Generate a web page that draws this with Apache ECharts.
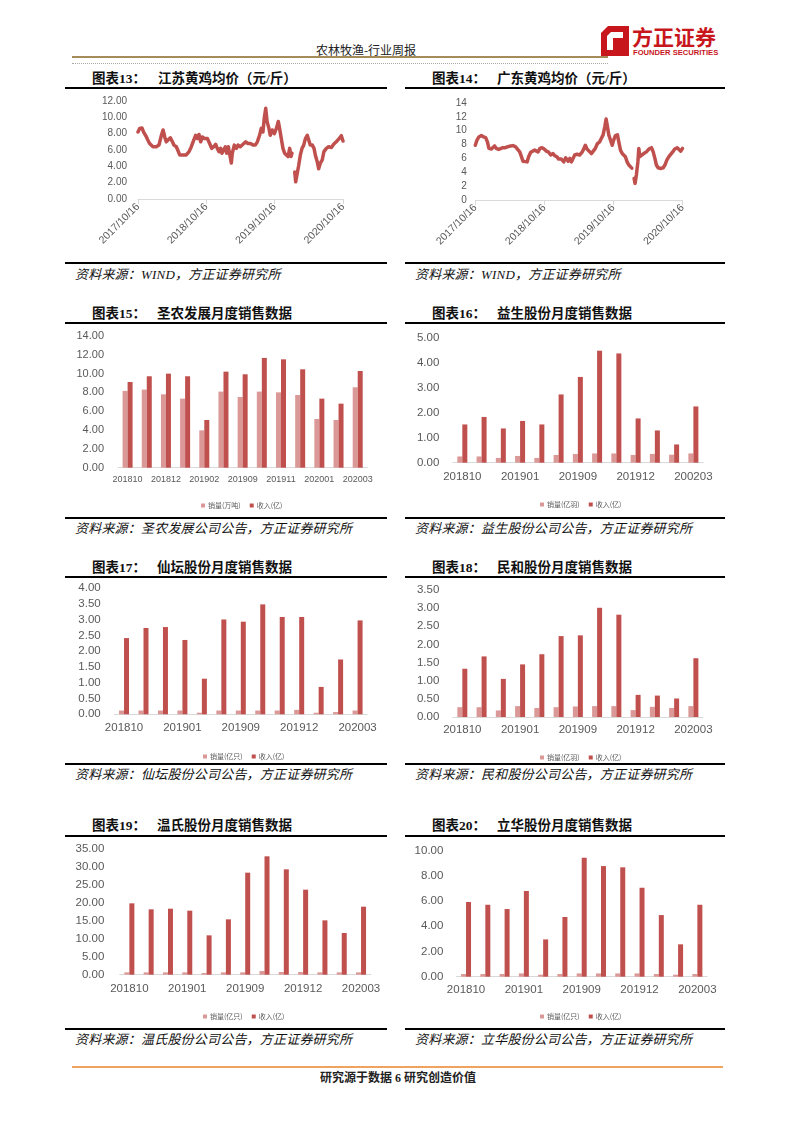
<!DOCTYPE html>
<html><head><meta charset="utf-8">
<script src="https://cdn.jsdelivr.net/npm/echarts/dist/echarts.min.js"></script>
<style>
body{margin:0;background:#fff;}
#page{position:relative;width:793px;height:1122px;overflow:hidden;background:#fff;}
.title{position:absolute;font-family:"Liberation Serif","Noto Sans CJK SC",serif;font-size:13.5px;font-weight:bold;color:#111;line-height:14px;white-space:nowrap;}
.src{position:absolute;font-family:"Liberation Serif","Noto Sans CJK SC",serif;font-style:italic;font-size:13px;color:#111;line-height:14px;white-space:nowrap;letter-spacing:0.2px;}
.hl{position:absolute;height:2px;background:#000;}
.chart{position:absolute;}
</style></head>
<body><div id="page">
<!-- header -->
<div style="position:absolute;left:306px;top:43px;width:120px;text-align:center;font-family:'Noto Sans CJK SC';font-size:12px;line-height:14px;color:#222;">农林牧渔-行业周报</div>
<div style="position:absolute;left:72px;top:56px;width:536px;height:2px;background:#A68B5B;"></div>
<div style="position:absolute;left:72px;top:63px;width:536px;height:0;border-top:1px dotted #aaa;"></div>
<svg style="position:absolute;left:600px;top:25px;" width="30" height="32" viewBox="0 0 30 32">
<polygon points="8,1 29,1 29,31 1,31 1,8" fill="#C8161D"/>
<polygon points="11,7 23,7 23,25 7,25 7,11" fill="#fff"/>
<rect x="13" y="13" width="10" height="12" fill="#C8161D"/>
</svg>
<div style="position:absolute;left:632px;top:24px;font-family:'Noto Sans CJK SC';font-weight:bold;font-size:21px;line-height:24px;color:#C8161D;">方正证券</div>
<div style="position:absolute;left:633px;top:48px;font-family:'Liberation Sans';font-weight:bold;font-size:7.6px;line-height:9px;color:#C8161D;">FOUNDER SECURITIES</div>

<!-- row A -->
<div class="title" style="left:92px;top:72px">图表13：</div>
<div class="title" style="left:158px;top:72px">江苏黄鸡均价（元/斤）</div>
<div class="title" style="left:432px;top:72px">图表14：</div>
<div class="title" style="left:497px;top:72px">广东黄鸡均价（元/斤）</div>
<div class="hl" style="left:65px;top:87px;width:322px"></div>
<div class="hl" style="left:405px;top:87px;width:320px"></div>
<div class="hl" style="left:65px;top:262px;width:322px"></div>
<div class="hl" style="left:405px;top:262px;width:320px"></div>
<div class="src" style="left:75px;top:268px">资料来源：WIND，方正证券研究所</div>
<div class="src" style="left:415px;top:268px">资料来源：WIND，方正证券研究所</div>

<!-- row B -->
<div class="title" style="left:92px;top:307px">图表15：</div>
<div class="title" style="left:157px;top:307px">圣农发展月度销售数据</div>
<div class="title" style="left:432px;top:307px">图表16：</div>
<div class="title" style="left:497px;top:307px">益生股份月度销售数据</div>
<div class="hl" style="left:65px;top:322px;width:322px"></div>
<div class="hl" style="left:405px;top:322px;width:320px"></div>
<div class="hl" style="left:65px;top:517px;width:322px"></div>
<div class="hl" style="left:405px;top:517px;width:320px"></div>
<div class="src" style="left:75px;top:522px">资料来源：圣农发展公司公告，方正证券研究所</div>
<div class="src" style="left:415px;top:522px">资料来源：益生股份公司公告，方正证券研究所</div>

<!-- row C -->
<div class="title" style="left:92px;top:561px">图表17：</div>
<div class="title" style="left:157px;top:561px">仙坛股份月度销售数据</div>
<div class="title" style="left:432px;top:561px">图表18：</div>
<div class="title" style="left:497px;top:561px">民和股份月度销售数据</div>
<div class="hl" style="left:65px;top:576px;width:322px"></div>
<div class="hl" style="left:405px;top:576px;width:320px"></div>
<div class="hl" style="left:65px;top:763px;width:322px"></div>
<div class="hl" style="left:405px;top:763px;width:320px"></div>
<div class="src" style="left:75px;top:768px">资料来源：仙坛股份公司公告，方正证券研究所</div>
<div class="src" style="left:415px;top:768px">资料来源：民和股份公司公告，方正证券研究所</div>

<!-- row D -->
<div class="title" style="left:92px;top:819px">图表19：</div>
<div class="title" style="left:157px;top:819px">温氏股份月度销售数据</div>
<div class="title" style="left:432px;top:819px">图表20：</div>
<div class="title" style="left:497px;top:819px">立华股份月度销售数据</div>
<div class="hl" style="left:65px;top:835px;width:322px"></div>
<div class="hl" style="left:405px;top:835px;width:320px"></div>
<div class="hl" style="left:65px;top:1028px;width:322px"></div>
<div class="hl" style="left:405px;top:1028px;width:320px"></div>
<div class="src" style="left:75px;top:1033px">资料来源：温氏股份公司公告，方正证券研究所</div>
<div class="src" style="left:415px;top:1033px">资料来源：立华股份公司公告，方正证券研究所</div>

<!-- footer -->
<div style="position:absolute;left:72px;top:1066px;width:651px;height:1.5px;background:#F0A35E;"></div>
<div style="position:absolute;left:298px;top:1071px;width:200px;text-align:center;font-family:'Liberation Serif','Noto Sans CJK SC';font-weight:bold;font-size:12px;line-height:14px;color:#222;">研究源于数据 6 研究创造价值</div>

<div id="c13" class="chart" style="left:72px;top:90px;width:318px;height:170px"></div>
<div id="c14" class="chart" style="left:405px;top:90px;width:317px;height:170px"></div>
<div id="c15" class="chart" style="left:72px;top:325px;width:318px;height:190px"></div>
<div id="c16" class="chart" style="left:405px;top:325px;width:317px;height:190px"></div>
<div id="c17" class="chart" style="left:72px;top:578px;width:318px;height:184px"></div>
<div id="c18" class="chart" style="left:405px;top:578px;width:317px;height:184px"></div>
<div id="c19" class="chart" style="left:72px;top:838px;width:318px;height:188px"></div>
<div id="c20" class="chart" style="left:405px;top:838px;width:317px;height:188px"></div>
</div>
<script>
// ---------- data ----------
const dateTicks = ['2017/10/16','2018/10/16','2019/10/16','2020/10/16'];
const totalDays = 1096; // 2017/10/16 -> 2020/10/16

const days13 = [0,9,21,30,45,53,62,71,80,89,98,112,125,134,143,151,160,173,184,192,205,214,223,232,244,258,273,285,298,308,317,326,335,344,356,371,383,394,405,415,424,433,442,449,458,467,474,483,490,499,504,515,526,535,547,561,576,588,601,615,627,638,650,659,668,675,683,690,700,707,718,729,740,750,757,766,775,784,793,802,811,818,823,829,838,843,850,859,868,877,886,895,905,914,921,932,941,950,959,966,975,985,994,1007,1019,1034,1046,1060,1075,1087,1096];
const price13 = [8.2,8.65,8.7,8.2,7.6,7.2,6.8,7.0,6.4,6.6,6.4,6.6,7.8,8.45,7.6,7.0,7.2,7.5,7.0,6.6,6.4,6.2,5.4,5.2,5.4,5.4,5.8,6.4,7.2,7.8,7.4,7.9,7.0,7.6,7.4,7.4,6.8,6.2,6.4,6.7,6.2,5.8,6.2,5.6,6.0,6.4,5.6,6.4,6.6,4.4,5.6,6.6,6.2,6.6,6.4,6.7,7.0,6.8,6.8,6.6,6.6,7.0,7.8,8.65,8.2,9.9,11.1,9.5,8.65,7.8,8.45,8.0,8.65,9.5,8.65,7.4,6.2,5.6,5.8,5.2,6.2,5.2,5.6,null,3.3,2.1,2.3,4.1,5.4,6.2,6.6,7.4,7.8,8.0,6.6,6.6,6.2,5.2,4.5,3.7,4.4,4.8,5.8,6.2,6.4,6.3,6.7,7.0,7.4,7.75,7.1];

const days14 = [0,9,19,32,44,55,64,72,85,94,102,111,124,134,146,159,173,187,199,212,222,235,244,252,261,274,282,293,302,314,323,332,342,353,364,376,388,399,411,420,431,441,455,468,478,491,500,508,517,526,538,552,565,575,582,591,602,614,623,635,646,658,667,676,685,692,699,706,715,724,732,741,752,759,768,777,785,794,803,812,821,828,834,840,845,852,860,865,870,879,891,905,918,932,941,950,958,967,980,994,1003,1013,1024,1034,1043,1055,1068,1078,1087,1096];
const price14 = [7.9,8.65,9.1,9.3,9.1,9.0,8.4,7.45,7.35,7.45,7.8,7.45,7.3,7.05,7.55,7.55,7.7,7.8,7.85,7.7,7.55,6.95,6.25,5.6,5.4,5.5,6.25,6.9,6.7,7.2,7.45,6.95,7.45,7.55,7.35,7.05,6.9,6.5,6.7,6.4,6.25,5.9,5.9,5.5,6.1,5.6,6.0,5.5,6.0,6.5,6.6,6.5,6.9,7.45,7.9,7.35,7.05,6.7,6.5,7.45,8.15,8.4,8.9,9.4,10.6,11.7,10.6,9.4,8.65,7.9,8.65,9.3,9.4,8.4,7.2,6.7,6.5,6.25,5.5,5.05,4.8,4.6,null,3.1,2.4,3.6,5.5,7.45,6.25,6.5,6.7,6.95,7.35,7.55,6.95,6.0,5.05,4.65,4.55,4.65,5.05,5.75,6.25,6.5,6.9,7.35,7.55,7.35,7.05,7.45];

const monthsA = ['201810','201811','201812','201901','201902','201908','201909','201910','201911','201912','202001','202002','202003'];
const monthsB = ['201810','201811','201812','201901','201902','201908','201909','201910','201911','201912','202001','202002','200203'];

const revName = '收入(亿)';
const vol15 = [8.16,8.30,7.80,7.34,3.97,8.09,7.52,8.09,8.01,7.73,5.18,5.07,8.55];
const rev15 = [9.11,9.72,10.00,9.72,5.07,10.21,9.93,11.67,11.52,10.46,7.34,6.81,10.28];
const vol16 = [0.25,0.25,0.19,0.27,0.19,0.31,0.35,0.37,0.37,0.31,0.35,0.32,0.37];
const rev16 = [1.53,1.83,1.37,1.67,1.53,2.73,3.43,4.48,4.37,1.77,1.29,0.73,2.25];
const vol17 = [0.12,0.12,0.12,0.12,0.05,0.12,0.12,0.12,0.12,0.14,0.05,0.07,0.12];
const rev17 = [2.42,2.74,2.77,2.36,1.13,3.01,2.94,3.49,3.09,3.09,0.87,1.74,2.98];
const vol18 = [0.27,0.27,0.18,0.30,0.25,0.27,0.29,0.30,0.30,0.19,0.28,0.25,0.30];
const rev18 = [1.33,1.67,1.05,1.45,1.73,2.23,2.25,3.01,2.82,0.61,0.59,0.51,1.62];
const vol19 = [0.65,0.65,0.65,0.65,0.46,0.65,0.65,1.02,0.74,0.74,0.65,0.65,0.65];
const rev19 = [19.87,18.20,18.38,17.83,10.96,15.41,28.41,32.96,29.34,23.68,15.13,11.61,18.94];
const vol20 = [0.21,0.21,0.21,0.26,0.16,0.21,0.26,0.26,0.26,0.26,0.21,0.16,0.21];
const rev20 = [5.93,5.71,5.37,6.80,2.96,4.74,9.44,8.78,8.68,7.06,4.89,2.57,5.71];

// ---------- styles ----------
const RED = '#C0504D', PINK = '#DA9896', GRAY = '#595959', AXIS = '#D9D9D9';
const NUMFONT = '"Liberation Sans", Arial, sans-serif';

function lineChart(id, days, prices, yMax, yDigits, grid, yMargin) {
  const chart = echarts.init(document.getElementById(id), null, {renderer: 'canvas'});
  const step = totalDays / 3;
  chart.setOption({
    animation: false,
    grid: Object.assign({containLabel: false, outerBoundsMode: 'none'}, grid),
    xAxis: {
      type: 'value', min: 0, max: totalDays, interval: step,
      axisLine: {show: true, lineStyle: {color: AXIS, width: 1}},
      axisTick: {show: true, length: 5, lineStyle: {color: AXIS}},
      splitLine: {show: false},
      axisLabel: {rotate: 45, margin: 6, fontSize: 10.5, color: GRAY, fontFamily: NUMFONT,
        showMinLabel: true, showMaxLabel: true, hideOverlap: false,
        formatter: v => dateTicks[Math.round(v / step)] || ''}
    },
    yAxis: {
      type: 'value', min: 0, max: yMax, interval: 2,
      axisLine: {show: false}, axisTick: {show: false}, splitLine: {show: false},
      axisLabel: {margin: yMargin, fontSize: 10, color: GRAY, fontFamily: NUMFONT,
        formatter: v => v.toFixed(yDigits)}
    },
    series: [{
      type: 'line', showSymbol: false, connectNulls: false,
      data: days.map((d, i) => [d, prices[i] === null ? '-' : prices[i]]),
      lineStyle: {color: RED, width: 3.5, join: 'round', cap: 'round'},
      itemStyle: {color: RED}
    }]
  });
}

lineChart('c13', days13, price13, 12, 2, {left: 66, top: 11, width: 205, height: 98}, 11);
lineChart('c14', days14, price14, 14, 0, {left: 70.3, top: 13, width: 207.2, height: 97}, 8.5);

function barChart(cfg) {
  const chart = echarts.init(document.getElementById(cfg.id), null, {renderer: 'canvas'});
  chart.setOption({
    animation: false,
    grid: Object.assign({containLabel: false, outerBoundsMode: 'none'}, cfg.grid),
    legend: {
      left: cfg.legend[0], top: cfg.legend[1], icon: 'rect', itemWidth: 4, itemHeight: 4, itemGap: 9,
      textStyle: {fontSize: 7, color: GRAY, fontFamily: '"Noto Sans CJK SC", sans-serif', padding: [0, 0, 0, -2]},
      data: [cfg.volName, revName], selectedMode: false
    },
    xAxis: {
      type: 'category', data: cfg.cats,
      axisLine: {show: true, lineStyle: {color: AXIS, width: 1}},
      axisTick: {show: false},
      axisLabel: {interval: cfg.labelInterval, margin: cfg.xMargin, fontSize: cfg.xFont, color: GRAY,
        fontFamily: NUMFONT, hideOverlap: false}
    },
    yAxis: {
      type: 'value', min: 0, max: cfg.yMax, interval: cfg.yStep,
      axisLine: {show: false}, axisTick: {show: false}, splitLine: {show: false},
      axisLabel: {margin: cfg.yMargin, fontSize: cfg.yFont, color: GRAY, fontFamily: NUMFONT,
        formatter: v => v.toFixed(2)}
    },
    series: [
      {type: 'bar', name: cfg.volName, data: cfg.vol, barWidth: 5, barGap: '0%', itemStyle: {color: PINK}},
      {type: 'bar', name: revName, data: cfg.rev, barWidth: 5, barGap: '0%', itemStyle: {color: RED}}
    ]
  });
}

barChart({id: 'c15', cats: monthsA, vol: vol15, rev: rev15, volName: '销量(万吨)', yMax: 14, yStep: 2,
  grid: {left: 46, top: 11, width: 249.3, height: 131.7}, labelInterval: 1, xFont: 9, xMargin: 7, yFont: 11, yMargin: 14, legend: [124, 172]});
barChart({id: 'c16', cats: monthsB, vol: vol16, rev: rev16, volName: '销量(亿羽)', yMax: 5, yStep: 1,
  grid: {left: 47.7, top: 12.7, width: 250.3, height: 125}, labelInterval: 2, xFont: 11.5, xMargin: 8.5, yFont: 11.5, yMargin: 13.4, legend: [130, 171]});
barChart({id: 'c17', cats: monthsA, vol: vol17, rev: rev17, volName: '销量(亿只)', yMax: 4, yStep: 0.5,
  grid: {left: 42.3, top: 10.3, width: 253, height: 126}, labelInterval: 2, xFont: 11.5, xMargin: 8, yFont: 11.5, yMargin: 13.6, legend: [126, 170]});
barChart({id: 'c18', cats: monthsA, vol: vol18, rev: rev18, volName: '销量(亿羽)', yMax: 3.5, yStep: 0.5,
  grid: {left: 47.7, top: 12, width: 250.3, height: 127}, labelInterval: 2, xFont: 11.5, xMargin: 7, yFont: 11.5, yMargin: 13.4, legend: [130, 171]});
barChart({id: 'c19', cats: monthsA, vol: vol19, rev: rev19, volName: '销量(亿只)', yMax: 35, yStep: 5,
  grid: {left: 47.7, top: 11, width: 251, height: 125.7}, labelInterval: 2, xFont: 11.5, xMargin: 8.5, yFont: 11.5, yMargin: 15.4, legend: [126, 170]});
barChart({id: 'c20', cats: monthsA, vol: vol20, rev: rev20, volName: '销量(亿只)', yMax: 10, yStep: 2,
  grid: {left: 51.4, top: 12.7, width: 250.6, height: 126}, labelInterval: 2, xFont: 11.5, xMargin: 7.5, yFont: 11.5, yMargin: 13, legend: [130, 170]});
</script>
</body></html>
